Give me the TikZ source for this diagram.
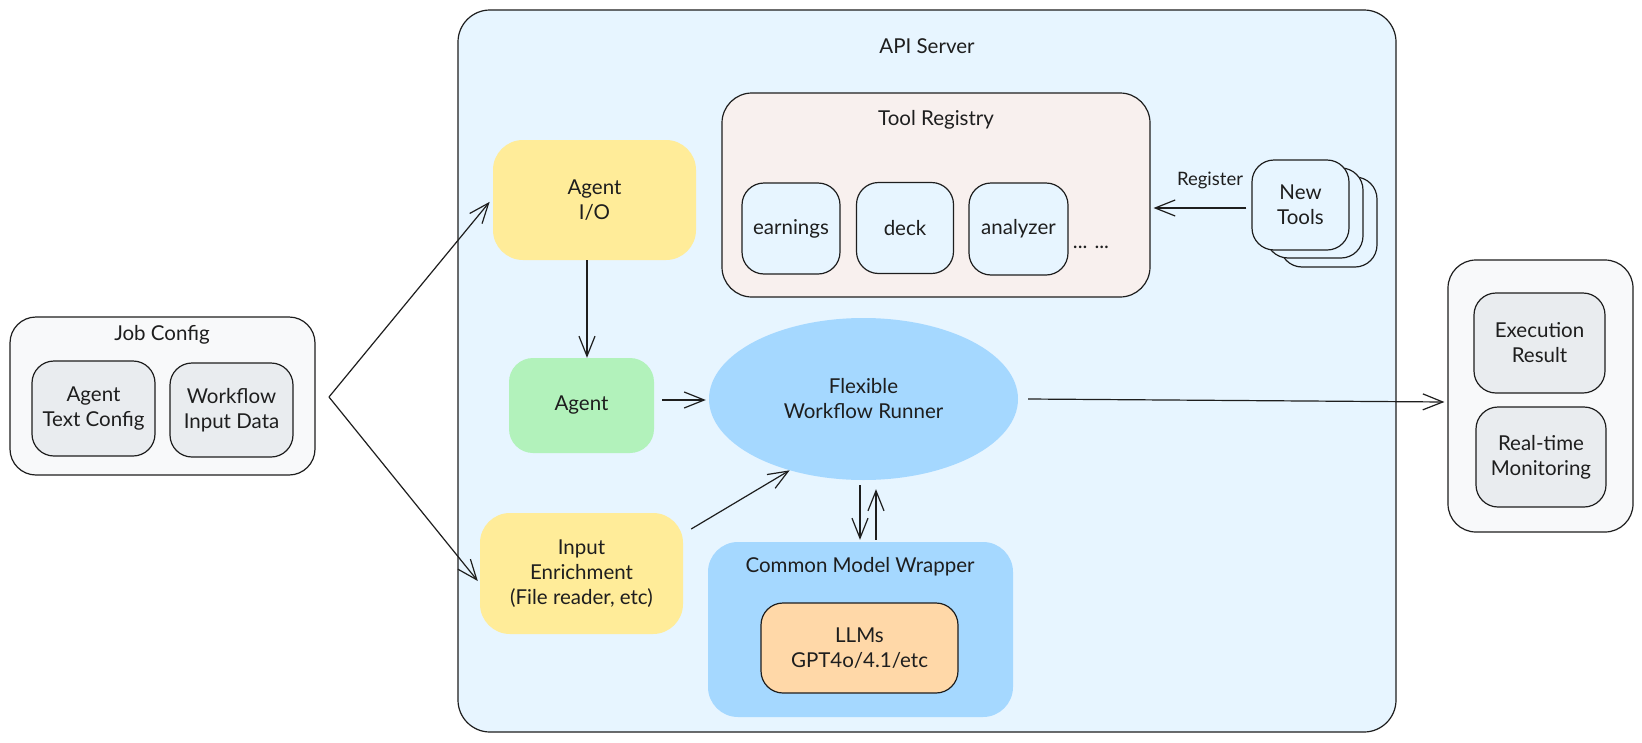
\documentclass[tikz,border=0pt]{standalone}
\usepackage{fontspec}
\setmainfont{Lato}
\usetikzlibrary{arrows.meta,shapes.geometric,calc}
\definecolor{ink}{HTML}{1E1E1E}
\definecolor{apibg}{HTML}{E7F5FF}
\definecolor{regbg}{HTML}{F8F0EE}
\definecolor{yel}{HTML}{FFEC99}
\definecolor{grn}{HTML}{B2F2BB}
\definecolor{blu}{HTML}{A5D8FF}
\definecolor{org}{HTML}{FFD8A8}
\definecolor{gry}{HTML}{F8F9FA}
\definecolor{gry2}{HTML}{E9ECEF}
\tikzset{
  box/.style={draw=ink, line width=1.2pt, rounded corners=22pt, align=center, inner sep=0pt, text=ink},
  blob/.style={draw=none, rounded corners=26pt, align=center, inner sep=0pt, text=ink},
  lbl/.style={align=center, inner sep=0pt, text=ink},
  small/.style={font=\fontsize{18.5}{23}\selectfont},
  arr/.style={draw=ink, line width=1.2pt, -{Straight Barb[length=20pt,width=16pt]}},
}
\begin{document}
\begin{tikzpicture}[x=1pt,y=-1pt,font=\fontsize{20.5}{25}\selectfont]
\useasboundingbox (0,0) rectangle (1642,742);
\fill[white] (0,0) rectangle (1642,742);

% Job Config
\node[box, fill=gry, rounded corners=26pt, minimum width=305pt, minimum height=158pt] (jobcfg) at (162.5,396) {};
\node[lbl] (jobtitle) at (162,335) {Job Config};
\node[box, fill=gry2, minimum width=123pt, minimum height=95pt] (atc) at (93.5,408.5) {Agent\\Text Config};
\node[box, fill=gry2, minimum width=123pt, minimum height=94pt] (wid) at (231.5,410) {Workflow\\Input Data};
\coordinate (jct) at (329,397);

% API Server
\node[box, fill=apibg, rounded corners=32pt, minimum width=938pt, minimum height=722pt] (api) at (927,371) {};
\node[lbl] (apititle) at (927,46) {API Server};

% Tool Registry
\node[box, fill=regbg, rounded corners=30pt, minimum width=428pt, minimum height=204pt] (toolreg) at (936,195) {};
\node[lbl] (regtitle) at (936,120) {Tool Registry};
\node[box, fill=apibg, minimum width=98pt, minimum height=91pt] (earn) at (791,228.5) {earnings};
\node[box, fill=apibg, minimum width=97pt, minimum height=91pt] (deck) at (905,228) {deck};
\node[box, fill=apibg, minimum width=99pt, minimum height=92pt] (anal) at (1018.5,229) {analyzer};
\node[lbl] (dots) at (1091,247) {... ...};

% New Tools stack
\node[box, fill=apibg, minimum width=97pt, minimum height=90pt] (nt3) at (1328.5,222) {};
\node[box, fill=apibg, minimum width=97pt, minimum height=90pt] (nt2) at (1314.5,213) {};
\node[box, fill=apibg, minimum width=97pt, minimum height=90pt] (nt1) at (1300.5,205) {New\\Tools};
\node[lbl, small] (reglbl) at (1210,180) {Register};

% Agent I/O, Agent, Input Enrichment
\node[blob, fill=yel, rounded corners=30pt, minimum width=203pt, minimum height=120pt] (agentio) at (594.5,200) {Agent\\I/O};
\node[blob, fill=grn, rounded corners=24pt, minimum width=145pt, minimum height=95pt] (agent) at (581.5,405.5) {Agent};
\node[blob, fill=yel, rounded corners=30pt, minimum width=203pt, minimum height=121pt] (input) at (581.5,573.5) {Input\\Enrichment\\(File reader, etc)};

% Runner
\node[ellipse, fill=blu, draw=none, minimum width=309pt, minimum height=162pt, inner sep=0pt, align=center, text=ink] (runner) at (863.5,399) {Flexible\\Workflow Runner};

% Common Model Wrapper
\node[blob, fill=blu, rounded corners=30pt, minimum width=305pt, minimum height=175pt] (cmw) at (860.5,629.5) {};
\node[lbl] (cmwtitle) at (860,567) {Common Model Wrapper};
\node[box, fill=org, minimum width=197pt, minimum height=90pt] (llms) at (859.5,648) {LLMs\\GPT4o/4.1/etc};

% Output
\node[box, fill=gry, rounded corners=28pt, minimum width=185pt, minimum height=272pt] (out) at (1540.5,396) {};
\node[box, fill=gry2, minimum width=131pt, minimum height=100pt] (exec) at (1539.5,343) {Execution\\Result};
\node[box, fill=gry2, minimum width=130pt, minimum height=100pt] (mon) at (1541,457) {Real-time\\Monitoring};

% Connectors
\draw[arr, shorten >=5pt] (jct) -- ($(agentio.west)+(0,-2)$);
\draw[arr] (jct) -- ($(input.west)+(-2,7.5)$);
\draw[arr] ($(agentio.south)+(-7.5,0)$) -- ($(agent.north)+(5.5,0)$);
\draw[arr] ($(agent.east)+(8,-5.5)$) -- ($(runner.west)+(-3,1)$);
\draw[arr] ($(input.east)+(8,-44.5)$) -- (runner.224);
\draw[arr] ($(runner.south)+(-3.5,5)$) -- ($(cmw.north)+(-0.5,-2)$);
\draw[arr] ($(cmw.north)+(15.5,-2)$) -- ($(runner.south)+(12.5,9)$);
\draw[arr] ($(runner.east)+(10,0)$) -- ($(out.west)+(-3,6)$);
\draw[arr] ($(nt1.west)+(-5,3)$) -- ($(toolreg.east)+(3,13)$);
\end{tikzpicture}
\end{document}
